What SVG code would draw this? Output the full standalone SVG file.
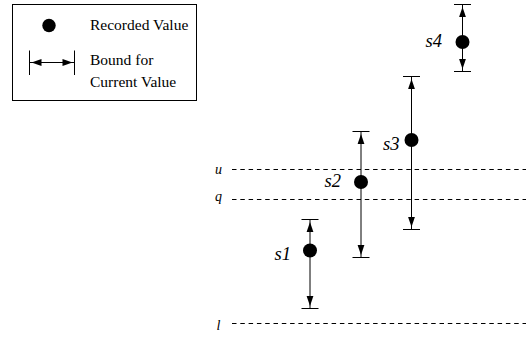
<svg xmlns="http://www.w3.org/2000/svg" width="526" height="337" viewBox="0 0 526 337">
<style>
.ln{stroke:#000;stroke-width:1;fill:none}
.dash{stroke:#000;stroke-width:1;stroke-dasharray:4.5 3.8;fill:none}
.dot{fill:#000}
.ah{fill:#000}
.lab{font-style:italic;font-size:18.5px;fill:#000}
.ax{font-style:italic;font-size:14px;fill:#000}
.leg{font-size:15.5px;fill:#000}
</style>
<defs>
<path id="up" d="M0,0 L-3.4,10 L3.4,10 Z"/>
<path id="down" d="M0,0 L-3.4,-10 L3.4,-10 Z"/>
</defs>
<rect width="526" height="337" fill="#fff"/>
<g id="legend" font-family="Liberation Serif, Times New Roman, DejaVu Serif, serif">
<rect class="ln" x="12.5" y="4.5" width="184" height="96"/>
<circle class="dot" cx="49" cy="25.5" r="6.7"/>
<text class="leg" x="90" y="30">Recorded Value</text>
<line class="ln" x1="29.5" y1="50.5" x2="29.5" y2="75"/>
<line class="ln" x1="74.5" y1="50.5" x2="74.5" y2="75"/>
<line class="ln" x1="29.5" y1="62.5" x2="74.5" y2="62.5"/>
<path class="ah" d="M31.5,62.5 L41.5,59.1 L41.5,65.9 Z"/>
<path class="ah" d="M72.5,62.5 L62.5,59.1 L62.5,65.9 Z"/>
<text class="leg" x="90" y="65">Bound for</text>
<text class="leg" x="90" y="87">Current Value</text>
</g>
<g id="thresholds" font-family="Liberation Serif, Times New Roman, DejaVu Serif, serif">
<line class="dash" x1="232" y1="169.5" x2="526" y2="169.5"/>
<line class="dash" x1="232" y1="199.5" x2="526" y2="199.5"/>
<line class="dash" x1="232" y1="323.5" x2="526" y2="323.5"/>
<text class="ax" x="215" y="173.5">u</text>
<text class="ax" x="215" y="200.5">q</text>
<text class="ax" x="216.5" y="330">l</text>
</g>
<g id="s1" font-family="Liberation Serif, Times New Roman, DejaVu Serif, serif">
<line class="ln" x1="310" y1="219.5" x2="310" y2="308.5"/>
<line class="ln" x1="301.5" y1="219.5" x2="318.5" y2="219.5"/>
<line class="ln" x1="301.5" y1="308.5" x2="318.5" y2="308.5"/>
<use href="#up" class="ah" x="310" y="222"/>
<use href="#down" class="ah" x="310" y="306"/>
<circle class="dot" cx="310" cy="250.5" r="7"/>
<text class="lab" x="274.5" y="259.5">s1</text>
</g>
<g id="s2" font-family="Liberation Serif, Times New Roman, DejaVu Serif, serif">
<line class="ln" x1="361" y1="131.5" x2="361" y2="257.5"/>
<line class="ln" x1="352.5" y1="131.5" x2="369.5" y2="131.5"/>
<line class="ln" x1="352.5" y1="257.5" x2="369.5" y2="257.5"/>
<use href="#up" class="ah" x="361" y="134"/>
<use href="#down" class="ah" x="361" y="255"/>
<circle class="dot" cx="361" cy="182" r="7"/>
<text class="lab" x="324.5" y="187">s2</text>
</g>
<g id="s3" font-family="Liberation Serif, Times New Roman, DejaVu Serif, serif">
<line class="ln" x1="411.5" y1="76.5" x2="411.5" y2="229.5"/>
<line class="ln" x1="403" y1="76.5" x2="420" y2="76.5"/>
<line class="ln" x1="403" y1="229.5" x2="420" y2="229.5"/>
<use href="#up" class="ah" x="411.5" y="79"/>
<use href="#down" class="ah" x="411.5" y="227"/>
<circle class="dot" cx="411.5" cy="140" r="7"/>
<text class="lab" x="383" y="149.5">s3</text>
</g>
<g id="s4" font-family="Liberation Serif, Times New Roman, DejaVu Serif, serif">
<line class="ln" x1="462.5" y1="4.5" x2="462.5" y2="71.5"/>
<line class="ln" x1="454" y1="4.5" x2="471" y2="4.5"/>
<line class="ln" x1="454" y1="71.5" x2="471" y2="71.5"/>
<use href="#up" class="ah" x="462.5" y="7"/>
<use href="#down" class="ah" x="462.5" y="69"/>
<circle class="dot" cx="462.5" cy="42" r="7"/>
<text class="lab" x="425.5" y="47">s4</text>
</g>
</svg>
